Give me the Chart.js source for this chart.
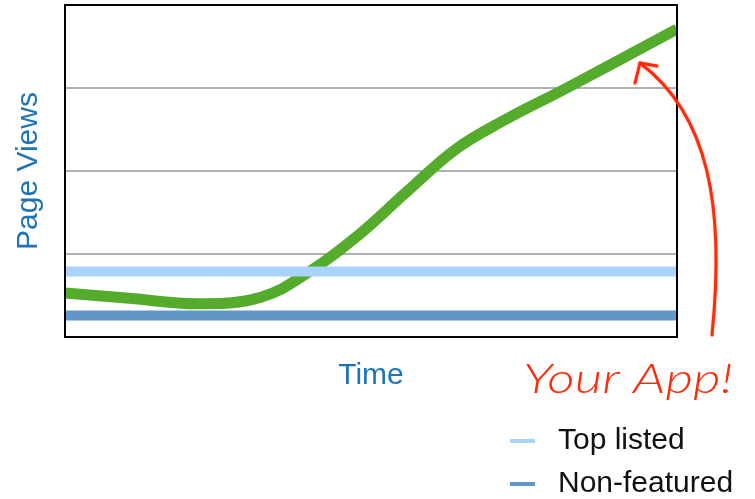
<!DOCTYPE html>
<html>
<head>
<meta charset="utf-8">
<script src="https://cdn.jsdelivr.net/npm/chart.js@4"></script>
<style>
  html, body { margin: 0; padding: 0; background: #fff; }
  #wrap { width: 755px; height: 499px; }
</style>
</head>
<body>
<div id="wrap"><canvas id="pageViews"></canvas></div>
<script>
// time runs 0..100 along the box, views 0..4 up it
const times = [0, 10, 22, 32, 40, 48, 56, 64, 72, 82, 100];
const appViews = [0.53, 0.47, 0.40, 0.48, 0.79, 1.23, 1.76, 2.27, 2.62, 3.00, 3.71];
const flatTimes = [0, 100];
const topListed = [0.79, 0.79];
const nonFeatured = [0.26, 0.26];
const gridValues = [1, 2, 3];

const BLUE_TEXT = '#1f74b8';
const RED = '#ff2a0a';

function toPoints(xs, ys) {
    var pts = [];
    xs.forEach((x, i) => {
        pts.push({x: x, y: ys[i]});
    });
    return pts;
}

// box, legend and the "Your App!" scribble
const extras = {
    id: 'extras',
    afterDraw(chart) {
        const ctx = chart.ctx;
        const a = chart.chartArea;
        ctx.save();

        // black frame around the plot
        ctx.strokeStyle = '#000';
        ctx.lineWidth = 2;
        ctx.strokeRect(a.left, a.top, a.right - a.left, a.bottom - a.top);

        // legend, bottom right
        const legendSets = chart.data.datasets.filter(d => d.inLegend);
        ctx.font = '30px "Liberation Sans", Arial, sans-serif';
        ctx.textBaseline = 'alphabetic';
        ctx.textAlign = 'left';
        legendSets.forEach((d, i) => {
            const base = a.bottom + 112 + i * 43;
            ctx.strokeStyle = d.borderColor;
            ctx.lineWidth = 4;
            ctx.beginPath();
            ctx.moveTo(a.right - 167, base - 8);
            ctx.lineTo(a.right - 142, base - 8);
            ctx.stroke();
            ctx.fillStyle = '#111';
            ctx.fillText(d.label, a.right - 119, base);
        });

        // "Your App!" note
        const app = chart.data.datasets.find(d => d.note);
        ctx.fillStyle = RED;
        ctx.font = 'italic 300 42px Lato, "DejaVu Sans", sans-serif';
        const w = ctx.measureText(app.label).width;
        ctx.save();
        ctx.translate(a.right - 154, a.bottom + 56);
        ctx.scale(210 / w, 1);
        ctx.fillText(app.label, 0, 0);
        ctx.restore();

        // curved arrow pointing up at the line
        ctx.strokeStyle = RED;
        ctx.lineWidth = 3;
        ctx.lineCap = 'round';
        ctx.lineJoin = 'round';
        ctx.shadowColor = 'rgba(255,60,30,0.5)';
        ctx.shadowBlur = 2;
        const tipX = a.right - 37, tipY = a.top + 58;
        ctx.beginPath();
        ctx.moveTo(a.right + 35, a.bottom - 2);
        ctx.bezierCurveTo(a.right + 48, a.bottom - 130, a.right + 32, a.top + 110, tipX, tipY);
        ctx.stroke();
        ctx.beginPath();
        ctx.moveTo(tipX - 5, tipY + 20);
        ctx.lineTo(tipX, tipY);
        ctx.lineTo(tipX + 17, tipY + 3);
        ctx.stroke();

        ctx.restore();
    }
};

new Chart(document.getElementById('pageViews'), {
    type: 'line',
    data: {
        datasets: [{
                label: 'Top listed',
                inLegend: true,
                data: toPoints(flatTimes, topListed),
                borderColor: '#a8d4fc',
                borderWidth: 10,
                pointRadius: 0
            }, {
                label: 'Non-featured',
                inLegend: true,
                data: toPoints(flatTimes, nonFeatured),
                borderColor: '#6096c8',
                borderWidth: 10,
                pointRadius: 0
            }, {
                label: 'Your App!',
                note: true,
                data: toPoints(times, appViews),
                borderColor: '#55ab2b',
                borderWidth: 11,
                pointRadius: 0,
                tension: 0.4
            }]
    },
    options: {
        responsive: true,
        maintainAspectRatio: false,
        animation: false,
        layout: {
            padding: {top: 5, right: 78, bottom: 108, left: 0}
        },
        scales: {
            x: {
                type: 'linear',
                min: 0,
                max: 100,
                ticks: {display: false},
                grid: {display: false, drawTicks: false},
                border: {display: false},
                title: {
                    display: true,
                    text: 'Time',
                    color: BLUE_TEXT,
                    font: {family: '"Liberation Sans", Arial, sans-serif', size: 30, lineHeight: 1},
                    padding: {top: 24, bottom: 0}
                }
            },
            y: {
                min: 0,
                max: 4,
                ticks: {display: false, stepSize: 1},
                grid: {
                    drawTicks: false,
                    lineWidth: 2,
                    color: c => gridValues.includes(c.tick.value) ? '#b0b0b0' : 'rgba(0,0,0,0)'
                },
                border: {display: false},
                title: {
                    display: true,
                    text: 'Page Views',
                    color: BLUE_TEXT,
                    font: {family: '"Liberation Sans", Arial, sans-serif', size: 30, lineHeight: 1},
                    padding: {top: 14, bottom: 21}
                }
            }
        },
        plugins: {
            legend: {display: false},
            tooltip: {enabled: false}
        }
    },
    plugins: [extras]
});
</script>
</body>
</html>
